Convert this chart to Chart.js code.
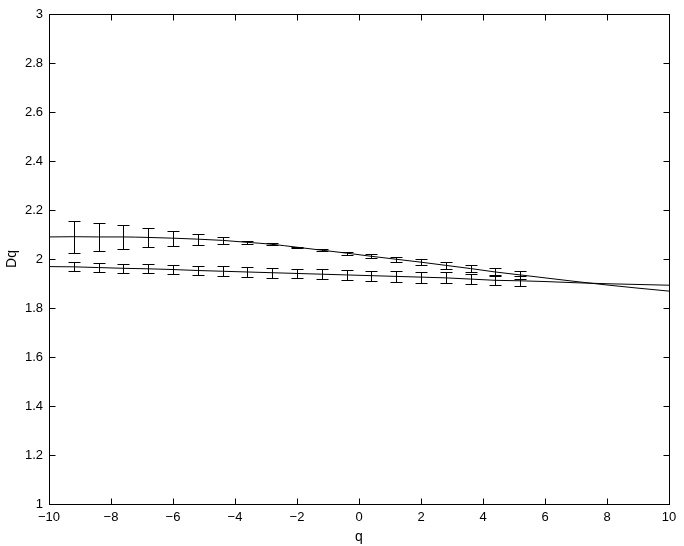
<!DOCTYPE html>
<html>
<head>
<meta charset="utf-8">
<script src="https://cdn.jsdelivr.net/npm/chart.js@4"></script>
<style>
  html, body { margin: 0; padding: 0; background: #fff; }
</style>
</head>
<body>
<canvas id="myChart" width="684" height="546"></canvas>
<script>
// q values where error bars were measured
var barQ = [-9.2, -8.4, -7.6, -6.8, -6.0, -5.2, -4.4, -3.6, -2.8, -2.0, -1.2, -0.4, 0.4, 1.2, 2.0, 2.8, 3.6, 4.4, 5.2];
var upperDq = [2.091, 2.090, 2.090, 2.088, 2.085, 2.081, 2.076, 2.068, 2.060, 2.048, 2.036, 2.024, 2.011, 1.999, 1.987, 1.974, 1.961, 1.947, 1.935];
var upperErr = [0.065, 0.058, 0.050, 0.040, 0.031, 0.022, 0.015, 0.007, 0.004, 0.003, 0.004, 0.006, 0.008, 0.010, 0.012, 0.013, 0.015, 0.018, 0.018];
var lowerDq = [1.968, 1.965, 1.962, 1.960, 1.957, 1.953, 1.950, 1.947, 1.944, 1.941, 1.938, 1.935, 1.932, 1.929, 1.926, 1.923, 1.918, 1.913, 1.911];
var lowerErr = [0.018, 0.018, 0.018, 0.019, 0.019, 0.020, 0.021, 0.021, 0.020, 0.020, 0.020, 0.020, 0.021, 0.021, 0.022, 0.022, 0.020, 0.020, 0.020];

// fitted curves over the whole range
var curveQ = [-10, -9.2, -8.4, -7.6, -6.8, -6.0, -5.2, -4.4, -3.6, -2.8, -2.0, -1.2, -0.4, 0.4, 1.2, 2.0, 2.8, 3.6, 4.4, 5.2, 6, 7, 8, 9, 10];
var upperCurve = [2.090, 2.091, 2.090, 2.090, 2.088, 2.085, 2.081, 2.076, 2.068, 2.060, 2.048, 2.036, 2.024, 2.011, 1.999, 1.987, 1.974, 1.961, 1.947, 1.935, 1.923, 1.908, 1.894, 1.881, 1.869];
var lowerCurve = [1.969, 1.968, 1.965, 1.962, 1.960, 1.957, 1.953, 1.950, 1.947, 1.944, 1.941, 1.938, 1.935, 1.932, 1.929, 1.926, 1.923, 1.918, 1.913, 1.911, 1.908, 1.903, 1.899, 1.896, 1.893];

var xTicks = [-10, -8, -6, -4, -2, 0, 2, 4, 6, 8, 10];
var yTicks = [1, 1.2, 1.4, 1.6, 1.8, 2, 2.2, 2.4, 2.6, 2.8, 3];

var fontFamily = "'Liberation Sans', Arial, Helvetica, sans-serif";

function toPoints(xs, ys) {
    return xs.map((x, i) => ({ x: x, y: ys[i] }));
}

// box, inward ticks and error bars, all placed through the chart scales
const matlabFrame = {
    id: 'matlabFrame',
    afterDatasetsDraw(chart) {
        let ctx = chart.ctx;
        let xs = chart.scales.x;
        let ys = chart.scales.y;
        let a = chart.chartArea;
        ctx.save();
        ctx.strokeStyle = '#000';
        ctx.lineWidth = 1;

        function drawBars(means, errs) {
            for (let i = 0; i < barQ.length; i++) {
                let px = Math.round(xs.getPixelForValue(barQ[i])) + 0.5;
                let top = Math.round(ys.getPixelForValue(means[i] + errs[i])) + 0.5;
                let bot = Math.round(ys.getPixelForValue(means[i] - errs[i])) + 0.5;
                ctx.beginPath();
                ctx.moveTo(px, top); ctx.lineTo(px, bot);
                ctx.moveTo(px - 6, top); ctx.lineTo(px + 6, top);
                ctx.moveTo(px - 6, bot); ctx.lineTo(px + 6, bot);
                ctx.stroke();
            }
        }
        drawBars(upperDq, upperErr);
        drawBars(lowerDq, lowerErr);

        let l = Math.round(a.left) + 0.5, r = Math.round(a.right) + 0.5;
        let t = Math.round(a.top) + 0.5, b = Math.round(a.bottom) + 0.5;
        ctx.strokeRect(l, t, r - l, b - t);

        ctx.beginPath();
        xTicks.forEach(v => {
            let px = Math.round(xs.getPixelForValue(v)) + 0.5;
            ctx.moveTo(px, b); ctx.lineTo(px, b - 6);
            ctx.moveTo(px, t); ctx.lineTo(px, t + 6);
        });
        yTicks.forEach(v => {
            let py = Math.round(ys.getPixelForValue(v)) + 0.5;
            ctx.moveTo(l, py); ctx.lineTo(l + 6, py);
            ctx.moveTo(r, py); ctx.lineTo(r - 6, py);
        });
        ctx.stroke();
        ctx.restore();
    }
};

let ctx = document.getElementById('myChart').getContext('2d');

window.myChart = new Chart(ctx, {
    type: 'line',
    data: {
        datasets: [{
            label: 'upper',
            data: toPoints(curveQ, upperCurve),
            borderColor: '#000',
            borderWidth: 1,
            pointRadius: 0,
            cubicInterpolationMode: 'monotone',
            fill: false
        }, {
            label: 'lower',
            data: toPoints(curveQ, lowerCurve),
            borderColor: '#000',
            borderWidth: 1,
            pointRadius: 0,
            cubicInterpolationMode: 'monotone',
            fill: false
        }]
    },
    options: {
        responsive: false,
        animation: false,
        layout: {
            padding: { left: 0, right: 15, top: 14, bottom: 0 }
        },
        scales: {
            x: {
                type: 'linear',
                position: 'bottom',
                min: -10,
                max: 10,
                afterBuildTicks: s => { s.ticks = xTicks.map(v => ({ value: v })); },
                afterFit: s => { s.height = 42; },
                ticks: {
                    color: '#000',
                    padding: 6,
                    maxRotation: 0,
                    font: { family: fontFamily, size: 13 },
                    callback: v => (v < 0 ? '\u2212' + Math.abs(v) : String(v))
                },
                grid: { display: false, drawTicks: false },
                border: { display: false },
                title: {
                    display: true,
                    text: 'q',
                    color: '#000',
                    padding: { top: 0, bottom: 0 },
                    font: { family: fontFamily, size: 14 }
                }
            },
            y: {
                type: 'linear',
                position: 'left',
                min: 1,
                max: 3,
                afterBuildTicks: s => { s.ticks = yTicks.map(v => ({ value: v })); },
                afterFit: s => { s.width = 49; },
                ticks: {
                    color: '#000',
                    padding: 6,
                    font: { family: fontFamily, size: 13 },
                    callback: v => String(Math.round(v * 10) / 10)
                },
                grid: { display: false, drawTicks: false },
                border: { display: false },
                title: {
                    display: true,
                    text: 'Dq',
                    color: '#000',
                    padding: { top: 4, bottom: 0 },
                    font: { family: fontFamily, size: 14 }
                }
            }
        },
        plugins: {
            legend: { display: false },
            tooltip: { enabled: false }
        }
    },
    plugins: [matlabFrame]
});
</script>
</body>
</html>
